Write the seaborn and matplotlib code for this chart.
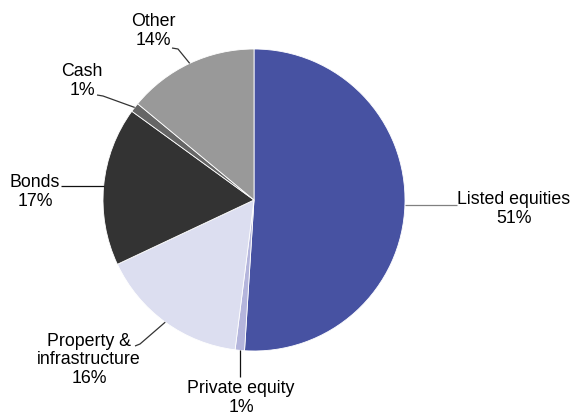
import numpy as np
import matplotlib
matplotlib.use("Agg")
import matplotlib.pyplot as plt
import seaborn as sns

# Asset allocation shares (percent)
categories = ["Listed equities", "Private equity", "Property &\ninfrastructure",
              "Bonds", "Cash", "Other"]
shares = [51, 1, 16, 17, 1, 14]
slice_colors = ["#4752a2", "#b4b5dc", "#dcdef0", "#333333", "#666666", "#999999"]

sns.set_theme(style="white")
plt.rcParams["font.family"] = ["Liberation Sans", "DejaVu Sans"]

W, H = 572, 414
CX, CY, R = 254, 201, 151  # pie centre and radius in pixels

fig = plt.figure(figsize=(W / 100, H / 100), dpi=100)
fig.patch.set_facecolor("white")
ax = fig.add_axes([(CX - R) / W, (H - CY - R) / H, 2 * R / W, 2 * R / H])

wedges, _ = ax.pie(shares, colors=slice_colors, startangle=90, counterclock=False,
                   radius=1.0, wedgeprops=dict(edgecolor="white", linewidth=0.6))
ax.set_xlim(-1, 1)
ax.set_ylim(-1, 1)
ax.set_aspect("equal")
ax.axis("off")


def px(x, y):
    """Pixel position -> data coordinates of the pie axes."""
    return (x - CX) / R, (CY - y) / R


# label block centre (px) and leader path start points (px) for each slice
label_pos = [(514, 209), (241, 398), (89, 360), (35, 192), (82, 81), (153, 31)]
leader_pts = [
    [(457, None)],
    [(None, 378)],
    [(135, 347), (140, 345)],
    [(61, None)],
    [(97, 96), (103, 97)],
    [(172, 49), (178, 50)],
]
leader_colors = ["#808080", "#111111", "#333333", "#111111", "#333333", "#333333"]

for w, cat, val, pos, pts, lc in zip(wedges, categories, shares, label_pos,
                                     leader_pts, leader_colors):
    mid = np.deg2rad((w.theta1 + w.theta2) / 2)
    ax_, ay_ = np.cos(mid), np.sin(mid)
    xs, ys = [], []
    for (x, y) in pts:
        dx, dy = px(x if x is not None else CX, y if y is not None else CY)
        xs.append(dx if x is not None else ax_)
        ys.append(dy if y is not None else ay_)
    xs.append(ax_)
    ys.append(ay_)
    ax.plot(xs, ys, color=lc, lw=0.9, clip_on=False, solid_capstyle="butt")
    tx, ty = px(*pos)
    ax.text(tx, ty, f"{cat}\n{val}%", ha="center", va="center", fontsize=12.8,
            color="#000000", linespacing=1.1, clip_on=False)

fig.savefig("out.png", dpi=100, facecolor="white")
